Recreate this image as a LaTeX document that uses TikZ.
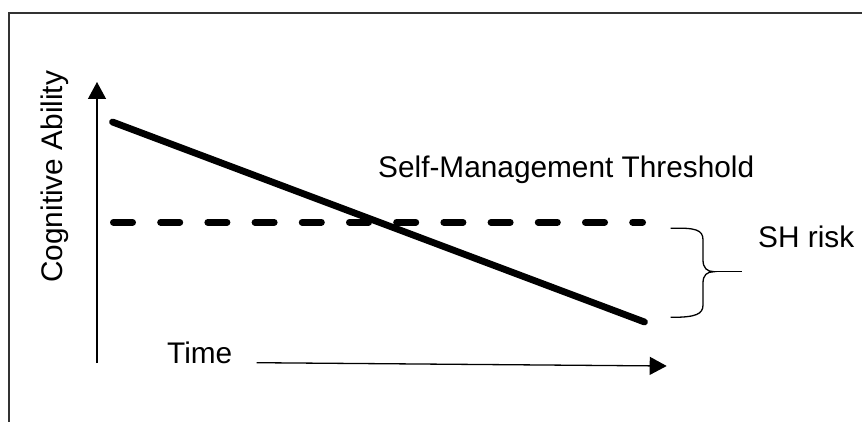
\documentclass[tikz,border=0pt]{standalone}
\usepackage{fontspec}
\setmainfont{Liberation Sans}
\usetikzlibrary{arrows.meta}
\begin{document}
\begin{tikzpicture}[x=1pt,y=-1pt,
  lbl/.style={inner sep=0pt,font=\fontsize{29.8}{35}\selectfont},
  axis/.style={line width=1.3pt,-{Triangle[length=17pt,width=18pt]}},
  frame/.style={line width=1.8pt,draw=black!80},
  trend/.style={line width=6.8pt,line cap=round},
  thresh/.style={line width=6.8pt,line cap=round,dash pattern=on 19.2pt off 28pt},
  bracket/.style={line width=1.3pt}]
\useasboundingbox (0,0) rectangle (862,422);
% frame (open at right and bottom)
\coordinate (fbl) at (9.2,423);
\coordinate (ftl) at (9.2,12.7);
\coordinate (ftr) at (863,12.7);
\draw[frame] (fbl) -- (ftl) -- (ftr);
% axes
\coordinate (yo) at (97,363);
\coordinate (yt) at (97,82);
\draw[axis] (yo) -- (yt);
\coordinate (xo) at (256.7,362.7);
\coordinate (xt) at (666.7,366);
\draw[axis] (xo) -- (xt);
% decline line
\coordinate (d1) at (112.5,122);
\coordinate (d2) at (644.5,322);
\draw[trend] (d1) -- (d2);
% threshold
\coordinate (t1) at (113.4,222.3);
\coordinate (t2) at (642.6,222.3);
\draw[thresh] (t1) -- (t2);
% brace
\coordinate (btop) at (670.7,228.3);
\coordinate (bbot) at (670.7,317.3);
\coordinate (btip) at (714,271.7);
\coordinate (bend) at (741.7,271.7);
\draw[bracket] (btop) .. controls (696,227.5) and (703,230) .. (703,240)
  -- (703,260) .. controls (703,268) and (707,271.7) .. (btip)
  .. controls (707,271.7) and (703,275) .. (703,283)
  -- (703,305) .. controls (703,314) and (696,317.5) .. (bbot);
\draw[bracket] (btip) -- (bend);
% labels
\node[lbl,anchor=base west] (smt) at (378,177.7) {Self-Management Threshold};
\node[lbl,anchor=base west] (time) at (167,363.3) {Time};
\node[lbl,anchor=base west] (sh) at (758,247.3) {SH risk};
\node[lbl,anchor=base west,rotate=90] (ca) at (62.5,283) {Cognitive Ability};
\end{tikzpicture}
\end{document}
